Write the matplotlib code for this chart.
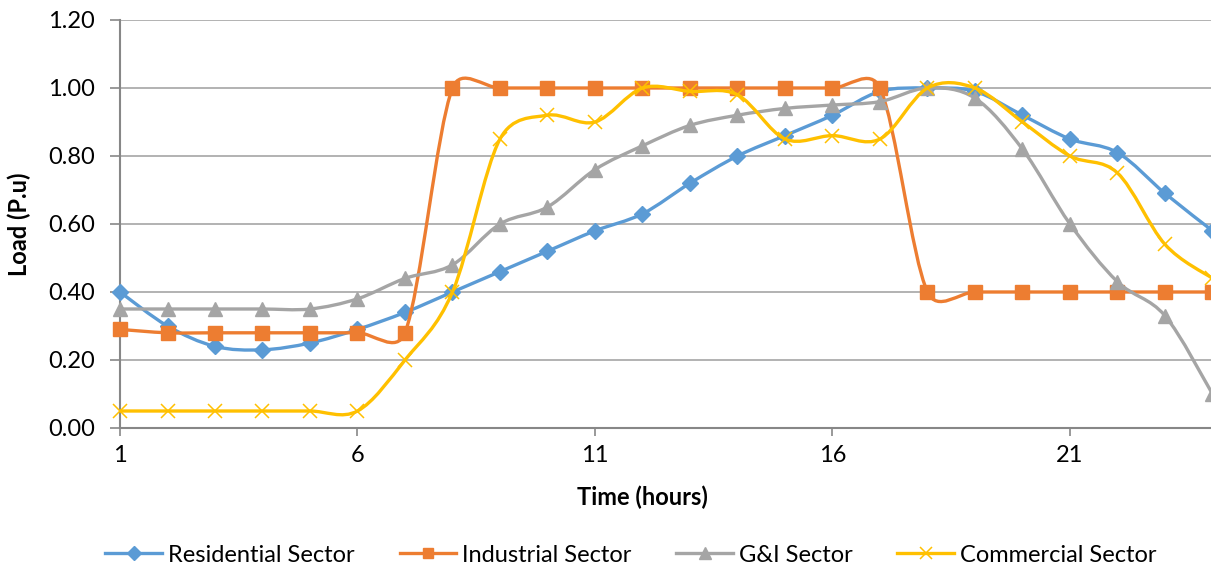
import matplotlib
matplotlib.use('Agg')
import matplotlib.pyplot as plt
from matplotlib.path import Path
from matplotlib.patches import PathPatch
from matplotlib.lines import Line2D
import numpy as np

plt.rcParams['font.family'] = ['Lato', 'DejaVu Sans']

# hourly load profiles, per unit
hours = list(range(1, 25))
residential = [0.40, 0.30, 0.24, 0.23, 0.25, 0.29, 0.34, 0.40, 0.46, 0.52, 0.58, 0.63,
               0.72, 0.80, 0.86, 0.92, 0.99, 1.00, 0.99, 0.92, 0.85, 0.81, 0.69, 0.58]
industrial = [0.29, 0.28, 0.28, 0.28, 0.28, 0.28, 0.28, 1.00, 1.00, 1.00, 1.00, 1.00,
              1.00, 1.00, 1.00, 1.00, 1.00, 0.40, 0.40, 0.40, 0.40, 0.40, 0.40, 0.40]
gi = [0.35, 0.35, 0.35, 0.35, 0.35, 0.38, 0.44, 0.48, 0.60, 0.65, 0.76, 0.83,
      0.89, 0.92, 0.94, 0.95, 0.96, 1.00, 0.97, 0.82, 0.60, 0.43, 0.33, 0.10]
commercial = [0.05, 0.05, 0.05, 0.05, 0.05, 0.05, 0.20, 0.40, 0.85, 0.92, 0.90, 1.00,
              0.99, 0.98, 0.85, 0.86, 0.85, 1.00, 1.00, 0.90, 0.80, 0.75, 0.54, 0.44]

series = [
    ('Residential Sector', residential, '#5B9BD5', 'D', 8.5),
    ('Industrial Sector', industrial, '#ED7D31', 's', 9.5),
    ('G&I Sector', gi, '#A5A5A5', '^', 10),
    ('Commercial Sector', commercial, '#FFC000', 'x', 10),
]

FONT = 17


def smooth_path(ax, x, y):
    """Smoothed line: cubic Bezier segments with neighbour-based tangents,
    control arms capped at half the segment length (in display space)."""
    pts = ax.transData.transform(np.column_stack([x, y]))
    n = len(pts)
    verts = [pts[0]]
    codes = [Path.MOVETO]

    def cap(vec, seg):
        lim = 0.5 * np.hypot(*seg)
        ln = np.hypot(*vec)
        return vec * (lim / ln) if ln > lim else vec

    for i in range(n - 1):
        a = i - 1 if i > 0 else i
        d = i + 2 if i + 2 < n else i + 1
        seg = pts[i + 1] - pts[i]
        t1 = cap((pts[i + 1] - pts[a]) / 6.0, seg)
        t2 = cap((pts[d] - pts[i]) / 6.0, seg)
        verts += [pts[i] + t1, pts[i + 1] - t2, pts[i + 1]]
        codes += [Path.CURVE4] * 3
    data = ax.transData.inverted().transform(np.array(verts))
    return Path(data, codes)


fig = plt.figure(figsize=(12.11, 5.69), dpi=100)
ax = fig.add_axes([120 / 1211, 1 - 428 / 569, 1092.5 / 1211, 408 / 569])
ax.set_xlim(1, 24)
ax.set_ylim(0, 1.2)

handles = []
for k, (name, vals, col, mk, ms) in enumerate(series):
    z = 3 + k * 2
    ax.add_patch(PathPatch(smooth_path(ax, hours, vals), facecolor='none', edgecolor=col,
                           lw=2.4, zorder=z, capstyle='round', joinstyle='round'))
    if mk == 'x':
        ax.plot(hours, vals, linestyle='none', marker=mk, markersize=ms, color=col,
                markeredgewidth=1.1, zorder=z + 1, clip_on=False)
    else:
        ax.plot(hours, vals, linestyle='none', marker=mk, markersize=ms, color=col,
                markeredgecolor=col, zorder=z + 1, clip_on=False)
    handles.append(Line2D([], [], color=col, lw=2.4, marker=mk, markersize=ms * 0.8,
                          markeredgewidth=1.1 if mk == 'x' else 1.0, label=name))

ax.set_xticks([1, 6, 11, 16, 21])
ax.set_yticks([0.0, 0.2, 0.4, 0.6, 0.8, 1.0, 1.2])
ax.set_yticklabels(['%.2f' % v for v in ax.get_yticks()])

ax.grid(axis='y', color='#A6A6A6', lw=1.2)
ax.set_axisbelow(True)
for s in ['top', 'right']:
    ax.spines[s].set_visible(False)
for s in ['left', 'bottom']:
    ax.spines[s].set_color('#878787')
    ax.spines[s].set_linewidth(1.5)
ax.tick_params(axis='y', length=7, width=1.2, color='#878787', pad=11, labelsize=FONT)
ax.tick_params(axis='x', length=6, width=1.2, color='#878787', pad=6, labelsize=FONT)

ax.set_xlabel('Time (hours)', fontsize=FONT, fontweight='bold', va='center')
ax.xaxis.set_label_coords(0.478, -0.169)
ax.set_ylabel('Load (P.u)', fontsize=FONT, fontweight='bold', va='center')
ax.yaxis.set_label_coords(-0.092, 0.5)

fig.legend(handles=handles, loc='center', bbox_to_anchor=(631 / 1211, 14 / 569), ncol=4,
           frameon=False, fontsize=FONT, handlelength=2.4, handletextpad=0.25,
           columnspacing=1.9)

fig.savefig('out.png', dpi=100)
